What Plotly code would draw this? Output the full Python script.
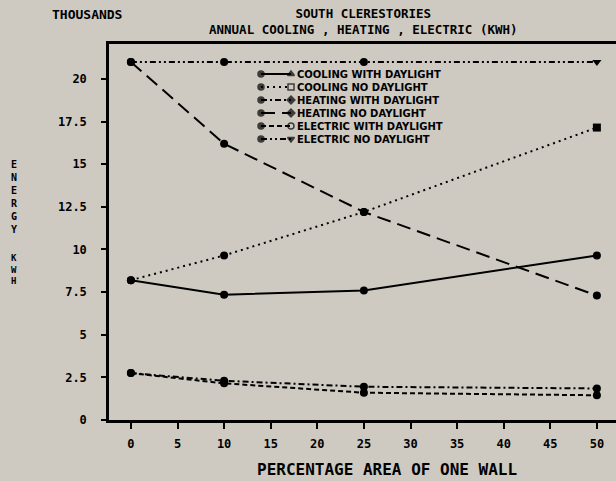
import plotly.graph_objects as go

# ---- data ----
pct_area = [0, 10, 25, 50]
cooling_with_daylight = [8.2, 7.35, 7.6, 9.65]
cooling_no_daylight = [8.2, 9.65, 12.2, 17.15]
heating_with_daylight = [2.75, 2.3, 1.95, 1.85]
heating_no_daylight = [21.0, 16.2, 12.2, 7.3]
electric_with_daylight = [2.75, 2.15, 1.6, 1.45]
electric_no_daylight = [21.0, 21.0, 21.0, 21.0]

series_names = [
    "COOLING WITH DAYLIGHT",
    "COOLING NO DAYLIGHT",
    "HEATING WITH DAYLIGHT",
    "HEATING NO DAYLIGHT",
    "ELECTRIC WITH DAYLIGHT",
    "ELECTRIC NO DAYLIGHT",
]
series_values = [
    cooling_with_daylight,
    cooling_no_daylight,
    heating_with_daylight,
    heating_no_daylight,
    electric_with_daylight,
    electric_no_daylight,
]
x_ticks = [0, 5, 10, 15, 20, 25, 30, 35, 40, 45, 50]
y_ticks = [0, 2.5, 5, 7.5, 10, 12.5, 15, 17.5, 20]
y_ticklabels = ["0", "2.5", "5", "7.5", "10", "12.5", "15", "17.5", "20"]

# ---- styles ----
dashes = ["solid", "2px,4px", "6px,3px,2px,3px", "14px,7px", "5px,3px",
          "6px,3px,2px,3px,2px,3px"]
end_symbols = ["circle", "square", "circle", "circle", "circle", "triangle-down"]
legend_end_symbols = ["triangle-up", "square-open", "diamond", "diamond",
                      "circle-open", "triangle-down"]

FONT = "DejaVu Sans Mono"
LEGEND_FONT = "DejaVu Sans"
LEGEND_SIZE = 10
BG = "#cecac1"
W, H = 616, 481
L, R, T, B = 109, 0, 44, 61
pw = W - L - R
ph = H - T - B


def fx(px):
    """pixel x -> plot-area fraction"""
    return (px - L) / pw


def fy(py):
    """pixel y -> plot-area fraction"""
    return (H - B - py) / ph


fig = go.Figure()

for name, vals, dash, es in zip(series_names, series_values, dashes, end_symbols):
    fig.add_trace(go.Scatter(
        x=pct_area, y=vals, mode="lines+markers", name=name,
        line=dict(color="black", width=2, dash=dash),
        marker=dict(color="black", size=8,
                    symbol=["circle"] * (len(vals) - 1) + [es]),
        showlegend=False, cliponaxis=False,
    ))

# ---- custom compact legend: one multi-line text block + line samples ----
row0 = 74
row_step = LEGEND_SIZE * 1.3  # plotly multi-line spacing
n = len(series_names)
for i, (dash, es) in enumerate(zip(dashes, legend_end_symbols)):
    yy = fy(row0 + i * row_step)
    fig.add_trace(go.Scatter(
        x=[fx(261), fx(291)], y=[yy, yy], xaxis="x2", yaxis="y2",
        mode="lines+markers",
        line=dict(color="black", width=2, dash=dash),
        marker=dict(color="black", size=[6, 6], symbol=["circle", es],
                    line=dict(color="black", width=1.5)),
        showlegend=False, hoverinfo="skip", cliponaxis=False,
    ))
fig.add_annotation(
    x=fx(295), y=fy(row0 + (n - 1) * row_step / 2), xref="x2", yref="y2",
    text="<br>".join(series_names), showarrow=False,
    xanchor="left", yanchor="middle", align="left",
    font=dict(family=LEGEND_FONT, size=LEGEND_SIZE, color="black", weight="bold"),
)

# ---- titles (positions in plot-area fractions) ----
def label(px, py, text, size, xanchor="center", yanchor="middle", align="center"):
    fig.add_annotation(x=fx(px), y=fy(py), xref="paper", yref="paper",
                       text=text, showarrow=False, align=align,
                       xanchor=xanchor, yanchor=yanchor,
                       font=dict(family=FONT, size=size, color="black", weight="bold"))


label(363, 21.5, "SOUTH CLERESTORIES<br>ANNUAL COOLING , HEATING , ELECTRIC (KWH)", 12.5)
label(87, 15, "THOUSANDS", 13)
label(14, 157, "E<br>N<br>E<br>R<br>G<br>Y", 10, yanchor="top")
label(14, 251, "K<br>W<br>H", 9, yanchor="top")
label(387, 469, "PERCENTAGE AREA OF ONE WALL", 16)

tickfont = dict(family=FONT, size=12, color="black", weight="bold")

fig.update_layout(
    width=W, height=H,
    margin=dict(l=L, r=R, t=T, b=B, pad=0),
    paper_bgcolor=BG, plot_bgcolor=BG,
    showlegend=False,
    xaxis=dict(
        range=[-2.35, 52.05], tickvals=x_ticks, ticktext=[str(v) for v in x_ticks],
        showgrid=False, zeroline=False,
        showline=True, linecolor="black", linewidth=2.5, mirror=True,
        ticks="outside", ticklen=6, tickwidth=1.5, tickcolor="black",
        tickfont=tickfont, ticklabelstandoff=5,
    ),
    yaxis=dict(
        range=[0, 22.05], tickvals=y_ticks, ticktext=y_ticklabels,
        showgrid=False, zeroline=False,
        showline=True, linecolor="black", linewidth=2.5, mirror=False,
        ticks="outside", ticklen=5, tickwidth=1.5, tickcolor="black",
        tickfont=tickfont, ticklabelstandoff=12,
    ),
    xaxis2=dict(overlaying="x", range=[0, 1], visible=False, anchor="y2"),
    yaxis2=dict(overlaying="y", range=[0, 1], visible=False, anchor="x2"),
)

fig.write_html(
    "out.html",
    config={"displayModeBar": False},
    post_script="document.body.style.margin='0px';document.body.style.overflow='hidden';",
)
